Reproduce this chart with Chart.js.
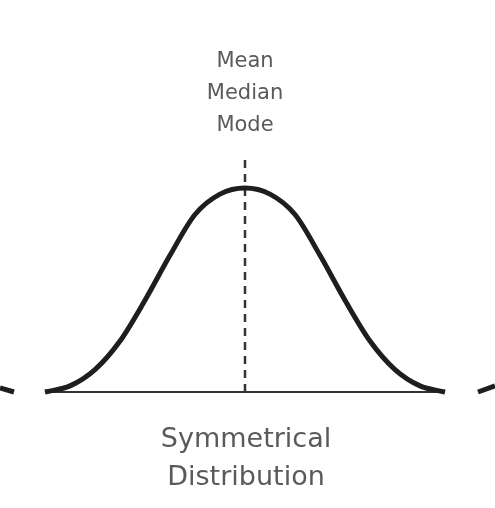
<!DOCTYPE html>
<html><head><script src="https://cdn.jsdelivr.net/npm/chart.js@4"></script>
<style>html,body{margin:0;padding:0;background:#fff}</style></head>
<body><canvas id="c" width="495" height="508"></canvas>
<script>
const curveX = [45,70,95,120,145,170,195,220,245,270,295,320,345,370,395,420,445];
const curveY = [0,0.03,0.11,0.25,0.45,0.67,0.87,0.97,1,0.97,0.87,0.67,0.45,0.25,0.11,0.03,0];
const baseX = [45,445];
const meanX = 245, meanTop = 1.16;
const topLabels = ["Mean","Median","Mode"];
const bottomLabels = ["Symmetrical","Distribution"];
const leftFragX=[0,14], leftFragY=[0.02,0];
const rightFragX=[478,495], rightFragY=[0,0.03];

const pts=(xs,ys)=>xs.map((x,i)=>({x,y:ys[i]}));
const textPlugin={id:'t',afterDraw(ch){const c=ch.ctx;c.save();c.fillStyle='#5a5a5a';c.textAlign='center';c.textBaseline='middle';
c.font='21px "DejaVu Sans"';const ys=[62,94,126];topLabels.forEach((t,i)=>c.fillText(t,245,ys[i]));
c.font='27px "DejaVu Sans"';const by=[440,478];bottomLabels.forEach((t,i)=>c.fillText(t,246,by[i]));c.restore();}};
new Chart(document.getElementById('c'),{type:'scatter',data:{datasets:[
{data:pts(curveX,curveY),showLine:true,cubicInterpolationMode:'monotone',borderColor:'#1e1e1e',borderWidth:5,pointRadius:0},
{data:pts(baseX,[0,0]),showLine:true,borderColor:'#333',borderWidth:2,pointRadius:0},
{data:[{x:meanX,y:0},{x:meanX,y:meanTop}],showLine:true,borderColor:'#333',borderWidth:2.5,borderDash:[8,6],pointRadius:0},
{data:pts(leftFragX,leftFragY),showLine:true,borderColor:'#1e1e1e',borderWidth:5,pointRadius:0},
{data:pts(rightFragX,rightFragY),showLine:true,borderColor:'#1e1e1e',borderWidth:5,pointRadius:0}
]},options:{responsive:false,animation:false,layout:{padding:0},plugins:{legend:{display:false},tooltip:{enabled:false}},
scales:{x:{type:'linear',min:0,max:495,display:false},y:{min:-0.5686,max:1.9216,display:false}}},plugins:[textPlugin]});
</script></body></html>
